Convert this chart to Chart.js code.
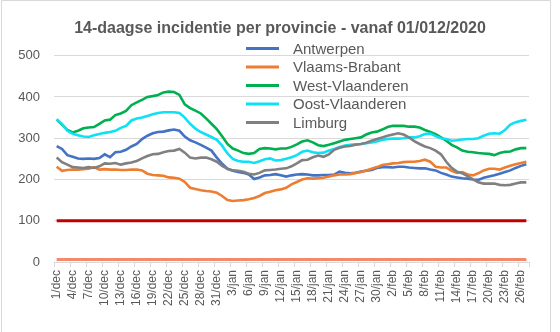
<!DOCTYPE html>
<html>
<head>
<meta charset="utf-8">
<script src="https://cdn.jsdelivr.net/npm/chart.js@4/dist/chart.umd.min.js"></script>
<style>
html, body { margin: 0; padding: 0; background: #fff; }
</style>
</head>
<body>
<canvas id="incidentie" width="560" height="332"></canvas>
<script>
// DATA

var maanden = [['dec', 31], ['jan', 31], ['feb', 27]];
var dagen = [];
maanden.forEach(function (m) {
    for (var d = 1; d <= m[1]; d++) dagen.push(d + '/' + m[0]);
});

var antwerpen = [281, 274, 259, 255, 251, 250, 251, 250, 252, 261, 254, 266, 267, 272, 280, 286, 298, 306, 312, 315,
    316, 319, 321, 318, 304, 295, 290, 284, 277, 270, 253, 238, 226, 221, 218, 216, 212, 201, 205, 210,
    211, 213, 210, 207, 210, 212, 213, 212, 210, 210, 211, 211, 212, 219, 216, 215, 216, 219, 221, 223,
    228, 230, 230, 229, 231, 231, 229, 228, 227, 227, 224, 222, 216, 212, 207, 205, 203, 202, 200, 199,
    204, 207, 210, 214, 218, 222, 228, 233, 237];

var vlaamsBrabant = [231, 221, 223, 224, 224, 225, 226, 230, 224, 225, 224, 224, 223, 223, 224, 224, 222, 214, 211, 210,
    209, 205, 204, 202, 194, 180, 177, 174, 172, 171, 168, 160, 150, 148, 149, 150, 152, 155, 160, 167,
    170, 174, 176, 180, 188, 194, 200, 203, 202, 203, 204, 207, 210, 212, 212, 213, 216, 218, 222, 226,
    230, 235, 237, 239, 240, 242, 243, 243, 245, 248, 243, 231, 229, 229, 221, 216, 218, 212, 210, 215,
    222, 226, 226, 224, 229, 233, 237, 240, 243];

var westVlaanderen = [345, 333, 320, 314, 318, 324, 326, 327, 335, 343, 345, 356, 360, 366, 380, 387, 393, 400, 402, 405,
    411, 413, 412, 405, 382, 373, 367, 360, 348, 335, 322, 305, 286, 275, 270, 264, 262, 264, 274, 276,
    275, 273, 275, 275, 279, 285, 292, 295, 290, 283, 281, 284, 288, 292, 296, 298, 300, 302, 309, 314,
    316, 321, 327, 330, 330, 330, 328, 328, 326, 320, 315, 310, 302, 294, 284, 278, 270, 267, 266, 264,
    263, 262, 259, 264, 267, 268, 273, 276, 276];

var oostVlaanderen = [346, 335, 318, 311, 307, 304, 303, 307, 310, 313, 315, 318, 325, 330, 343, 348, 350, 354, 358, 361,
    363, 363, 363, 361, 350, 335, 323, 315, 309, 303, 296, 282, 263, 250, 245, 243, 243, 240, 244, 249,
    251, 246, 247, 250, 254, 259, 267, 270, 266, 264, 265, 270, 274, 279, 282, 284, 285, 286, 288, 290,
    292, 296, 298, 299, 299, 300, 302, 302, 305, 310, 311, 305, 300, 298, 294, 295, 297, 298, 298, 300,
    306, 311, 312, 311, 320, 333, 339, 342, 345];

var limburg = [253, 242, 236, 230, 229, 228, 230, 228, 232, 239, 238, 240, 236, 239, 241, 245, 251, 257, 261, 262,
    266, 269, 270, 274, 265, 253, 251, 253, 253, 249, 243, 233, 226, 222, 221, 219, 214, 212, 216, 222,
    223, 224, 226, 227, 232, 239, 247, 248, 254, 258, 255, 261, 272, 277, 280, 281, 284, 286, 289, 294,
    298, 302, 306, 309, 312, 309, 302, 293, 286, 280, 276, 270, 261, 243, 228, 219, 215, 208, 200, 193,
    190, 190, 190, 187, 186, 187, 190, 193, 193];

var drempel = 100;
var nulLijn = 6;

var yTicks = [0, 100, 200, 300, 400, 500];

var tekstKleur = '#595959';
var rasterKleur = '#d9d9d9';


// LEGEND ON TOP OF THE PLOT + FRAME

var legendePlugin = {
    id: 'legendePlugin',
    beforeDraw: function (chart) {
        var c = chart.ctx;
        c.save();
        c.strokeStyle = rasterKleur;
        c.lineWidth = 1;
        c.beginPath();
        c.moveTo(1.5, 332);
        c.lineTo(1.5, 0.5);
        c.lineTo(550.5, 0.5);
        c.lineTo(550.5, 332);
        c.stroke();
        c.restore();
    },
    afterDraw: function (chart) {
        var c = chart.ctx;
        c.save();
        c.font = '15px "Liberation Sans", Arial, sans-serif';
        c.textBaseline = 'middle';
        c.fillStyle = tekstKleur;
        var rij = 0;
        chart.data.datasets.forEach(function (ds) {
            if (ds.inLegende === false) return;
            var y = 48.5 + rij * 18.5;
            c.strokeStyle = ds.borderColor;
            c.lineWidth = 3;
            c.beginPath();
            c.moveTo(246, y);
            c.lineTo(279, y);
            c.stroke();
            c.fillText(ds.label, 293, y + 1);
            rij++;
        });
        c.restore();
    }
};


// DEFINING CHART

var ctx = document.getElementById('incidentie').getContext('2d');

function reeks(label, data, kleur, volgorde) {
    return {
        label: label,
        data: data,
        borderColor: kleur,
        backgroundColor: kleur,
        borderWidth: 2.6,
        pointRadius: 0,
        tension: 0,
        order: volgorde
    };
}

var chart = new Chart(ctx, {
    type: 'line',
    data: {
        labels: dagen,
        datasets: [
            reeks('Antwerpen', antwerpen, '#4472c4', 5),
            reeks('Vlaams-Brabant', vlaamsBrabant, '#ed7d31', 4),
            reeks('West-Vlaanderen', westVlaanderen, '#00b050', 3),
            reeks('Oost-Vlaanderen', oostVlaanderen, '#0fe1f5', 2),
            reeks('Limburg', limburg, '#808080', 1),
            Object.assign(reeks('drempel', dagen.map(function () { return drempel; }), '#c00000', 7), { inLegende: false, borderWidth: 3 }),
            Object.assign(reeks('nul', dagen.map(function () { return nulLijn; }), '#f28b6d', 6), { inLegende: false, borderWidth: 3 })
        ]
    },
    options: {
        responsive: false,
        animation: false,
        layout: { padding: 0 },
        plugins: {
            legend: { display: false },
            tooltip: { enabled: false },
            title: {
                display: true,
                text: '14-daagse incidentie per provincie - vanaf 01/012/2020',
                color: tekstKleur,
                font: { family: '"Liberation Sans", Arial, sans-serif', size: 16, weight: 'bold' },
                padding: { top: 19, bottom: 17.5 }
            }
        },
        scales: {
            x: {
                offset: true,
                afterFit: function (scale) { scale.height = 70; },
                grid: {
                    offset: true,
                    drawOnChartArea: false,
                    drawTicks: true,
                    tickLength: 5,
                    color: function (c) {
                        return (c.index === undefined || c.index % 3 === 0) ? rasterKleur : 'rgba(0,0,0,0)';
                    }
                },
                border: { color: rasterKleur },
                ticks: {
                    autoSkip: false,
                    minRotation: 90,
                    maxRotation: 90,
                    padding: 3,
                    color: tekstKleur,
                    font: { family: '"Liberation Sans", Arial, sans-serif', size: 12 },
                    callback: function (v, i) { return i % 3 === 0 ? dagen[i] : ''; }
                }
            },
            y: {
                min: 0,
                max: 500,
                afterFit: function (scale) { scale.width = 54; },
                afterBuildTicks: function (scale) {
                    scale.ticks = yTicks.map(function (v) { return { value: v }; });
                },
                grid: { color: rasterKleur, drawTicks: false },
                border: { display: false },
                ticks: {
                    padding: 14,
                    color: tekstKleur,
                    font: { family: '"Liberation Sans", Arial, sans-serif', size: 13 }
                }
            },
            // empty axis on the right: keeps the plot clear of the right edge
            rechts: {
                type: 'linear',
                position: 'right',
                min: 0,
                max: 500,
                afterFit: function (scale) { scale.width = 31; },
                grid: { display: false },
                border: { display: false },
                ticks: { display: false }
            }
        }
    },
    plugins: [legendePlugin]
});
</script>
</body>
</html>
